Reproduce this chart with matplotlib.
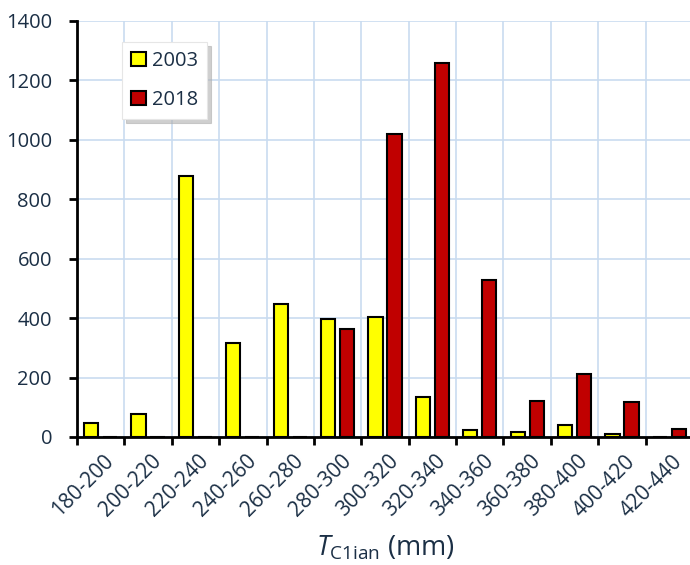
import numpy as np
import matplotlib
matplotlib.use('Agg')
import matplotlib.pyplot as plt

# bins of T_C1ian (mm)
categories = ['180-200', '200-220', '220-240', '240-260', '260-280', '280-300', '300-320',
              '320-340', '340-360', '360-380', '380-400', '400-420', '420-440']
counts_2003 = [47, 77, 880, 318, 447, 398, 405, 135, 25, 18, 39, 9, 0]
counts_2018 = [0, 0, 0, 0, 0, 362, 1020, 1260, 530, 120, 212, 118, 28]

txt = '#1b2f45'
grid_c = '#c9dcf0'
plt.rcParams['font.family'] = ['Open Sans', 'DejaVu Sans']
plt.rcParams['mathtext.fontset'] = 'custom'
plt.rcParams['mathtext.rm'] = 'Open Sans'
plt.rcParams['mathtext.it'] = 'Open Sans:italic'

fig = plt.figure(figsize=(6.9, 5.65), dpi=100)
ax = fig.add_axes([77/690, (565-437)/565, 616/690, 416/565])

x = np.arange(len(categories))
w = 0.30
ax.bar(x - 0.2, counts_2003, w, color='#ffff00', edgecolor='black', linewidth=1.5, label='2003', zorder=3)
ax.bar(x + 0.2, counts_2018, w, color='#c00000', edgecolor='black', linewidth=1.5, label='2018', zorder=3)

ax.set_xlim(-0.5, len(categories) - 0.5)
ax.set_ylim(0, 1400)
ax.set_yticks(np.arange(0, 1401, 200))
ax.set_xticks(np.arange(len(categories) + 1) - 0.5)
ax.set_xticklabels([])
ax.grid(True, color=grid_c, linewidth=1.2, zorder=0)
ax.set_axisbelow(True)

for s in ['top', 'right']:
    ax.spines[s].set_visible(False)
for s in ['left', 'bottom']:
    ax.spines[s].set_linewidth(2)
    ax.spines[s].set_zorder(4)
ax.tick_params(axis='both', direction='out', length=6, width=2, colors='black',
               labelcolor=txt, labelsize=14.5)
ax.tick_params(axis='y', pad=12)

for i, c in enumerate(categories):
    ax.annotate(c, xy=(i, 0), xycoords=('data', 'axes fraction'), xytext=(2, -10),
                textcoords='offset points', rotation=45, ha='right', va='top',
                rotation_mode='anchor', fontsize=15, color=txt)

fig.text(385 / 690, 10 / 565, r'$\mathit{T}_{\mathrm{C1ian}}$ (mm)', fontsize=19.5,
         color=txt, ha='center', va='baseline')

leg = fig.legend(loc='upper left', bbox_to_anchor=(122/690, 1 - 42/565), borderaxespad=0,
                 frameon=True, fancybox=False, fontsize=14.5, handlelength=0.72, handleheight=0.72,
                 labelspacing=0.95, borderpad=0.45, handletextpad=0.3, labelcolor=txt,
                 framealpha=1, shadow={'color': '#b0b0b0', 'alpha': 0.6, 'ox': 3, 'oy': -3})
leg.get_frame().set_edgecolor('#e6e6e6')
leg.get_frame().set_linewidth(0.8)
for h in leg.legend_handles:
    h.set_linewidth(1.5)

fig.savefig('out.png', dpi=100)
